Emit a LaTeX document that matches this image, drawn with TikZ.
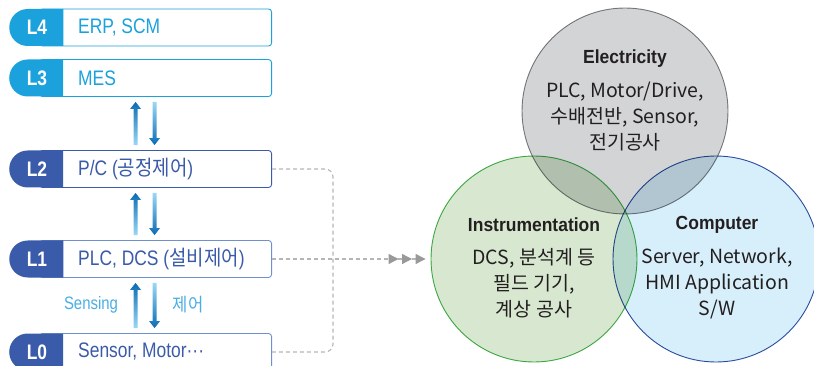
\documentclass[tikz,border=0pt]{standalone}
\usepackage{fontspec}
\setmainfont{Liberation Sans}
\newfontfamily\cond[FakeStretch=0.83]{Liberation Sans}
\newfontfamily\krcond[FakeStretch=0.9]{Noto Sans CJK KR}
\newfontfamily\headfont[FakeStretch=0.92]{Liberation Sans}
\newfontfamily\kr{Noto Sans CJK KR}
\usetikzlibrary{calc,shapes.misc,arrows.meta}

\definecolor{lvlight}{HTML}{1BA1DC}
\definecolor{lvdark}{HTML}{3A5BA9}
\definecolor{lvline}{HTML}{7090CC}
\definecolor{arrdark}{HTML}{0A6CB4}
\definecolor{arrlight}{HTML}{9AD8F6}
\definecolor{senscol}{HTML}{4AAEE3}
\definecolor{dashgray}{HTML}{B5B5B5}
\definecolor{tipgray}{HTML}{999999}
\definecolor{txtdark}{HTML}{231F20}
\definecolor{elecfill}{HTML}{D2D4D6}
\definecolor{elecline}{HTML}{7F8285}
\definecolor{instfill}{HTML}{D8E8D0}
\definecolor{instline}{HTML}{43B04A}
\definecolor{compfill}{HTML}{D7EFFA}
\definecolor{compline}{HTML}{2E4FA2}

\tikzset{
  lvbox/.style={draw=#1, fill=white, line width=0.9pt, rounded corners=3pt,
    minimum width=232pt, minimum height=37pt, anchor=east},
  lvtab/.style={rounded rectangle, rounded rectangle right arc=none, fill=#1,
    minimum width=54pt, minimum height=37pt, inner sep=0pt, text=white,
    font=\cond\bfseries\fontsize{21}{21}\selectfont},
  lvtext/.style={anchor=west, inner sep=0pt, text=#1,
    font=\cond\fontsize{21}{21}\selectfont},
  venn/.style={circle, minimum size=206pt, line width=0.9pt},
  vtitle/.style={text=txtdark, font=\headfont\bfseries\fontsize{19}{19}\selectfont},
  vbody/.style={text=txtdark, align=center, font=\kr\fontsize{19.5}{26}\selectfont},
  dashline/.style={draw=dashgray, line width=1.1pt, dash pattern=on 4pt off 3pt}
}

% pair of shaded arrows between two level boxes
\newcommand{\updown}[2]{%
  \shade[top color=arrdark, bottom color=arrlight] let \p1=(#1.south), \p2=(#2.north) in
    ({\x1-22pt},{\y2+5pt}) -- ({\x1-22pt},{\y1-12pt}) -- ({\x1-25.5pt},{\y1-12pt})
    -- ({\x1-20pt},{\y1-5pt}) -- ({\x1-14.5pt},{\y1-12pt}) -- ({\x1-18pt},{\y1-12pt})
    -- ({\x1-18pt},{\y2+5pt}) -- cycle;
  \shade[top color=arrlight, bottom color=arrdark] let \p1=(#1.south), \p2=(#2.north) in
    ({\x1-3pt},{\y1-5pt}) -- ({\x1-3pt},{\y2+12pt}) -- ({\x1-6.5pt},{\y2+12pt})
    -- ({\x1-1pt},{\y2+5pt}) -- ({\x1+4.5pt},{\y2+12pt}) -- ({\x1+1pt},{\y2+12pt})
    -- ({\x1+1pt},{\y1-5pt}) -- cycle;
}

\begin{document}
\begin{tikzpicture}[x=1pt, y=-1pt]
\useasboundingbox (0,0) rectangle (814,366);

% Level boxes
\node[lvbox=lvlight] (l4) at (272,27.5) {};
\node[lvtab=lvlight] (l4tab) at (37,27.5) {L4};
\node[lvtext=lvlight] (l4txt) at (78,27.5) {ERP, SCM};

\node[lvbox=lvlight] (l3) at (272,78) {};
\node[lvtab=lvlight] (l3tab) at (37,78) {L3};
\node[lvtext=lvlight] (l3txt) at (78,78) {MES};

\node[lvbox=lvdark] (l2) at (272,169) {};
\node[lvtab=lvdark] (l2tab) at (37,169) {L2};
\node[lvtext=lvdark] (l2txt) at (78,169) {P/C ({\krcond 공정제어})};

\node[lvbox=lvline] (l1) at (272,259) {};
\node[lvtab=lvdark] (l1tab) at (37,259) {L1};
\node[lvtext=lvdark] (l1txt) at (78,259) {PLC, DCS ({\krcond 설비제어})};

\node[lvbox=lvline] (l0) at (272,352) {};
\node[lvtab=lvdark] (l0tab) at (37,352) {L0};
\node[lvtext=lvdark] (l0txt) at (78,352) {Sensor, Motor\textperiodcentered\textperiodcentered\textperiodcentered};

% Arrows between levels
\updown{l3}{l2}
\updown{l2}{l1}
\updown{l1}{l0}
\node[text=senscol, font=\cond\fontsize{18}{18}\selectfont] (sens) at (91,305) {Sensing};
\node[text=senscol, font=\krcond\fontsize{18.5}{18.5}\selectfont] (ctrl) at (188,305) {제어};

% Venn circles
\begin{scope}[blend group=multiply]
\node[venn, fill=instfill, draw=instline] (inst) at (534,259) {};
\node[venn, fill=compfill, draw=compline] (comp) at (716,259) {};
\node[venn, fill=elecfill, draw=elecline] (elec) at (625,111) {};
\end{scope}

\node[vtitle] (electitle) at (625,59) {Electricity};
\node[vbody] (elecbody) at (625,117) {PLC, Motor/Drive,\\수배전반, Sensor,\\전기공사};
\node[vtitle] (insttitle) at (534,225) {Instrumentation};
\node[vbody] (instbody) at (534,283) {DCS, 분석계 등\\필드 기기,\\계상 공사};
\node[vtitle] (comptitle) at (717,225) {Computer};
\node[vbody] (compbody) at (717,283) {Server, Network,\\HMI Application\\S/W};

% Dashed links to the circles
\draw[dashline, rounded corners=8pt] (l2.east) -- ++(61,0) |- (l0.east);
\draw[dashline, shorten >=5pt,
  -{Triangle[length=10pt,width=10pt,sep=3.5pt,color=tipgray]
    Triangle[length=10pt,width=10pt,sep=3.5pt,color=tipgray]
    Triangle[length=10pt,width=10pt,color=tipgray]}] (l1.east) -- (inst.west);

\end{tikzpicture}
\end{document}
